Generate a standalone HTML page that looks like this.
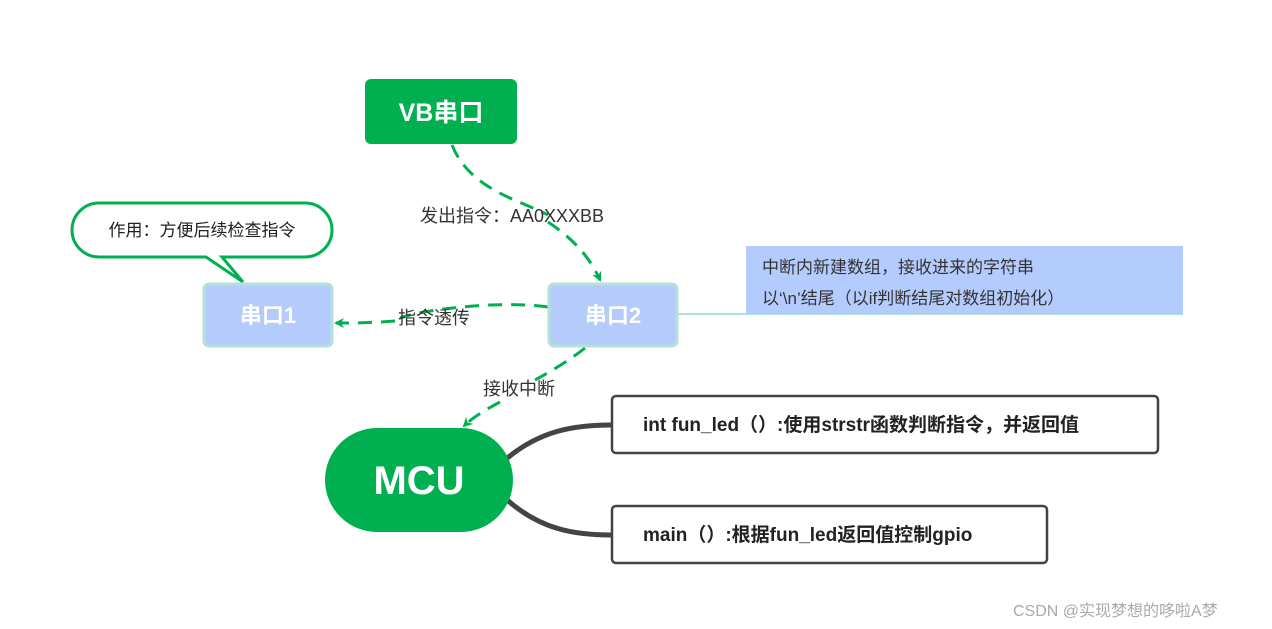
<!DOCTYPE html>
<html><head><meta charset="utf-8"><style>
html,body{margin:0;padding:0;background:#fff;}
svg{display:block;}
text{font-family:"Liberation Sans","Noto Sans CJK SC",sans-serif;}
</style></head><body>
<svg width="1272" height="629" viewBox="0 0 1272 629" xmlns="http://www.w3.org/2000/svg">
<defs>
<marker id="ah" markerWidth="10" markerHeight="10" refX="8" refY="5" orient="auto" markerUnits="userSpaceOnUse">
<path d="M0,0 L10,5 L0,10 L3,5 z" fill="#00b050"/>
</marker>
</defs>
<!-- connectors -->
<path d="M452,145 C470,190 520,200 548,215" fill="none" stroke="#00b050" stroke-width="3" stroke-dasharray="14,9"/>
<path d="M548,222 C575,240 590,258 600,280" fill="none" stroke="#00b050" stroke-width="3" stroke-dasharray="14,9" marker-end="url(#ah)"/>
<path d="M548,307 C500,300 420,310 400,318" fill="none" stroke="#00b050" stroke-width="3" stroke-dasharray="14,9"/>
<path d="M395,321 C370,323 350,323 336,323" fill="none" stroke="#00b050" stroke-width="3" stroke-dasharray="14,9" marker-end="url(#ah)"/>
<path d="M585,348 C570,360 550,372 535,380" fill="none" stroke="#00b050" stroke-width="3" stroke-dasharray="14,9"/>
<path d="M500,402 C485,410 472,418 464,426" fill="none" stroke="#00b050" stroke-width="3" stroke-dasharray="14,9" marker-end="url(#ah)"/>
<path d="M505,460 C540,430 575,425 612,425" fill="none" stroke="#444" stroke-width="5"/>
<path d="M505,498 C540,530 575,535 612,535" fill="none" stroke="#444" stroke-width="5"/>
<line x1="678" y1="314" x2="1183" y2="314" stroke="#b0e0d8" stroke-width="2"/>
<!-- labels -->
<text x="420" y="222" font-size="18" fill="#333">发出指令：AA0XXXBB</text>
<text x="398" y="324" font-size="18" fill="#333">指令透传</text>
<text x="483" y="395" font-size="18" fill="#333">接收中断</text>
<!-- VB -->
<rect x="365" y="79" width="152" height="65" rx="6" fill="#00b050"/>
<text x="441" y="121" font-size="25" font-weight="bold" fill="#fff" text-anchor="middle">VB串口</text>
<!-- callout -->
<path d="M99,203 H305 A27,27 0 0 1 305,257 H222 L243,282 L206,257 H99 A27,27 0 0 1 99,203 z" fill="#fff" stroke="#00b050" stroke-width="3"/>
<text x="202" y="236" font-size="17" fill="#222" text-anchor="middle">作用：方便后续检查指令</text>
<!-- 串口1 / 串口2 -->
<rect x="204" y="284" width="128" height="62" rx="5" fill="#b4cbfc" stroke="#b2e2d8" stroke-width="3"/>
<text x="268" y="323" font-size="22" font-weight="bold" fill="#fff" text-anchor="middle">串口1</text>
<rect x="549" y="284" width="128" height="62" rx="5" fill="#b4cbfc" stroke="#b2e2d8" stroke-width="3"/>
<text x="613" y="323" font-size="22" font-weight="bold" fill="#fff" text-anchor="middle">串口2</text>
<!-- note -->
<rect x="746" y="246" width="437" height="68" fill="#b4ccfd"/>
<text x="762" y="273" font-size="17" fill="#333">中断内新建数组，接收进来的字符串</text>
<text x="762" y="304" font-size="17" fill="#333">以‘\n’结尾（以if判断结尾对数组初始化）</text>
<!-- MCU -->
<rect x="325" y="428" width="188" height="104" rx="52" fill="#00b050"/>
<text x="419" y="494" font-size="40" font-weight="bold" fill="#fff" text-anchor="middle">MCU</text>
<!-- boxes -->
<rect x="612" y="396" width="546" height="57" rx="4" fill="#fff" stroke="#444" stroke-width="2.5"/>
<text x="643" y="431" font-size="19" font-weight="bold" fill="#222">int fun_led（）:使用strstr函数判断指令，并返回值</text>
<rect x="612" y="506" width="435" height="57" rx="4" fill="#fff" stroke="#444" stroke-width="2.5"/>
<text x="643" y="541" font-size="19" font-weight="bold" fill="#222">main（）:根据fun_led返回值控制gpio</text>
<text x="1013" y="616" font-size="16" fill="#aaa">CSDN @实现梦想的哆啦A梦</text>
</svg>
</body></html>
